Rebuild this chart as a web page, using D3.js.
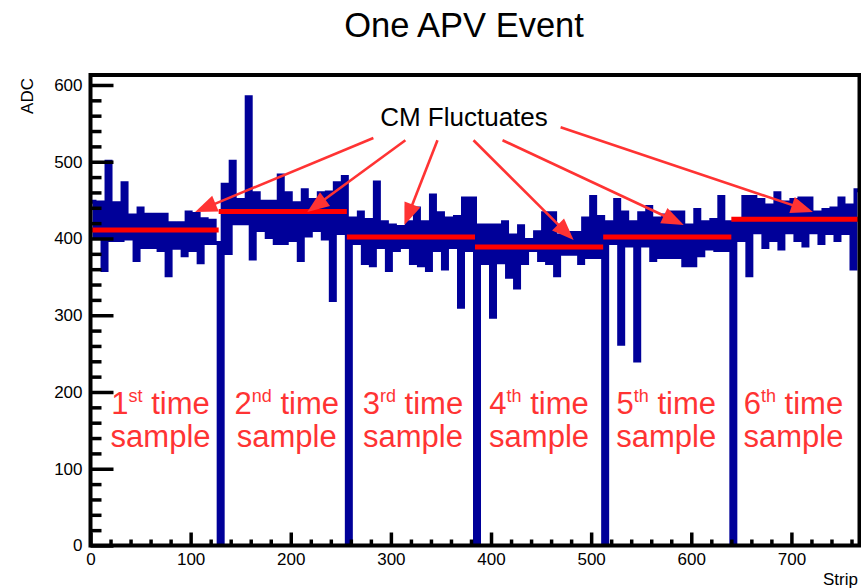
<!DOCTYPE html>
<html><head><meta charset="utf-8">
<script src="https://cdn.jsdelivr.net/npm/d3@7"></script>
<style>body{margin:0;background:#fff} svg{display:block;font-family:"Liberation Sans",Arial,Helvetica,sans-serif}</style>
</head><body><svg id="c" width="861" height="588"></svg>
<script>
// ---- data ----
const binWidth = 4; // strips per bin
const sample1 = [448,402,447,359,500,398,446,398,472,400,430,372,439,389,431,389,431,385,431,352,420,388,420,378,434,385,432,369,425,394,423,394];
const sample2 = [0,470,381,500,420,450,420,584,374,459,411,448,402,448,394,482,394,459,398,446,372,463,404,450,411,459,400,460,320,472,407,480];
const sample3 = [0,426,394,434,368,424,365,473,389,421,359,417,385,415,389,421,368,439,365,421,359,456,385,433,361,426,389,428,311,452,385,452];
const sample4 = [0,417,368,417,298,417,369,421,350,404,336,416,368,398,385,408,372,433,368,433,352,404,380,407,380,407,368,426,376,454,376,428];
const sample5 = [0,421,394,450,263,434,391,421,241,433,391,441,372,426,376,430,376,434,376,434,365,417,365,437,378,421,387,424,385,454,385,421];
const sample6 = [0,421,398,454,352,454,408,450,389,443,398,459,387,447,408,450,398,452,391,452,408,434,394,437,407,439,398,452,407,443,361,463];
const samples = [sample1, sample2, sample3, sample4, sample5, sample6];
const cmLevels = [411, 435, 402, 389, 402, 425];
const xTicks = [0,100,200,300,400,500,600,700];
const yTicks = [0,100,200,300,400,500,600];
const sampleOrdinals = [["1","st"],["2","nd"],["3","rd"],["4","th"],["5","th"],["6","th"]];
const labelCenters = [70, 196, 322, 448, 575, 702]; // strip positions of label centres
// arrows in data units: from [strip, ADC] to [strip, ADC]
const arrows = [
  {from:[282.5,531], to:[104.5,434.5]},
  {from:[314.5,528], to:[216.5,434.5]},
  {from:[346.5,528], to:[313.5,417.6]},
  {from:[382.5,528], to:[482.5,398]},
  {from:[411.5,528], to:[592.5,417.6]},
  {from:[469.5,545], to:[721.5,434.5]}
];
const stripsPerSample = 128;
const xMax = 768, yMax = 613;

// ---- drawing ----
const svg = d3.select("#c");
const x = d3.scaleLinear().domain([0, xMax]).range([90.5, 859.5]);
const y = d3.scaleLinear().domain([0, yMax]).range([545.5, 75]);

svg.append("clipPath").attr("id","clip").append("rect")
  .attr("x", x(0)).attr("y", y(yMax)).attr("width", x(xMax)-x(0)).attr("height", y(0)-y(yMax));

// title
svg.append("text").attr("x", 464).attr("y", 37).attr("text-anchor","middle")
  .attr("font-size", 34.5).text("One APV Event");

// histogram
const values = samples.flat();
const pts = values.map((v,i)=>[i*binWidth, v]);
pts.push([values.length*binWidth, values[values.length-1]]);
const line = d3.line().x(d=>x(d[0])).y(d=>y(d[1])).curve(d3.curveStepAfter);
svg.append("path").attr("clip-path","url(#clip)").attr("d", line(pts))
  .attr("fill","none").attr("stroke","#000099").attr("stroke-width",4).attr("stroke-linejoin","miter");

// CM level lines
svg.append("g").selectAll("line").data(cmLevels).join("line")
  .attr("x1",(d,i)=>x(i*stripsPerSample)).attr("x2",(d,i)=>x((i+1)*stripsPerSample))
  .attr("y1",d=>y(d)).attr("y2",d=>y(d))
  .attr("stroke","#ff0000").attr("stroke-width",5);

// axes ticks (inside)
const minorX = d3.range(0, xMax+1, 20).filter(v=>v%100!==0);
const minorY = d3.range(0, 601, 20).filter(v=>v%100!==0);
function styleTicks(g, w){ g.select(".domain").remove(); g.selectAll("line").attr("stroke","#000").attr("stroke-width",w); g.selectAll("text").remove(); }
svg.append("g").attr("transform",`translate(${x(0)},0)`)
  .call(d3.axisRight(y).tickValues(minorY).tickSize(11)).call(g=>styleTicks(g,3.5));
svg.append("g").attr("transform",`translate(${x(0)},0)`)
  .call(d3.axisRight(y).tickValues(yTicks).tickSize(23)).call(g=>styleTicks(g,3.5));
svg.append("g").attr("transform",`translate(0,${y(0)})`)
  .call(d3.axisTop(x).tickValues(minorX).tickSize(6)).call(g=>styleTicks(g,3.5));
svg.append("g").attr("transform",`translate(0,${y(0)})`)
  .call(d3.axisTop(x).tickValues(xTicks).tickSize(13)).call(g=>styleTicks(g,3.5));

// tick labels
const yl = svg.append("g").attr("transform",`translate(${x(0)},0)`)
  .call(d3.axisLeft(y).tickValues(yTicks).tickSize(0).tickPadding(8));
yl.select(".domain").remove();
yl.selectAll("text").attr("font-size",17).attr("font-family","Liberation Sans, Arial, sans-serif").attr("fill","#000");
const xl = svg.append("g").attr("transform",`translate(0,${y(0)})`)
  .call(d3.axisBottom(x).tickValues(xTicks).tickSize(0).tickPadding(7));
xl.select(".domain").remove();
xl.selectAll("text").attr("font-size",17).attr("font-family","Liberation Sans, Arial, sans-serif").attr("fill","#000");

// frame
svg.append("rect").attr("x",x(0)).attr("y",y(yMax)).attr("width",x(xMax)-x(0)).attr("height",y(0)-y(yMax))
  .attr("fill","none").attr("stroke","#000").attr("stroke-width",4);

// axis titles
svg.append("text").attr("x",858).attr("y",585).attr("text-anchor","end").attr("font-size",17).text("Strip");
svg.append("text").attr("transform","translate(33,78) rotate(-90)").attr("text-anchor","end").attr("font-size",17).text("ADC");

// annotation
svg.append("text").attr("x",464).attr("y",126).attr("text-anchor","middle").attr("font-size",26).text("CM Fluctuates");
const red = "#ff3333";
const ag = svg.append("g");
arrows.forEach(a=>{
  const x1=x(a.from[0]), y1=y(a.from[1]), x2=x(a.to[0]), y2=y(a.to[1]);
  const dx=x2-x1, dy=y2-y1, L=Math.hypot(dx,dy), ux=dx/L, uy=dy/L;
  const hl=22, hw=8.5;
  const bx=x2-ux*hl, by=y2-uy*hl;
  ag.append("line").attr("x1",x1).attr("y1",y1).attr("x2",bx+ux*2).attr("y2",by+uy*2)
    .attr("stroke",red).attr("stroke-width",2.6);
  ag.append("path").attr("d",`M${x2},${y2}L${bx-uy*hw},${by+ux*hw}L${bx+uy*hw},${by-ux*hw}Z`).attr("fill",red);
});

// sample labels
const lg = svg.append("g").attr("fill",red).attr("font-size",31).attr("text-anchor","middle");
sampleOrdinals.forEach((o,i)=>{
  const cx = x(labelCenters[i]);
  const t = lg.append("text").attr("x",cx).attr("y",y(171));
  t.append("tspan").text(o[0]);
  t.append("tspan").attr("font-size",18).attr("dy",-12).text(o[1]);
  t.append("tspan").attr("dy",12).text(" time");
  lg.append("text").attr("x",cx).attr("y",y(128)).text("sample");
});
</script></body></html>
